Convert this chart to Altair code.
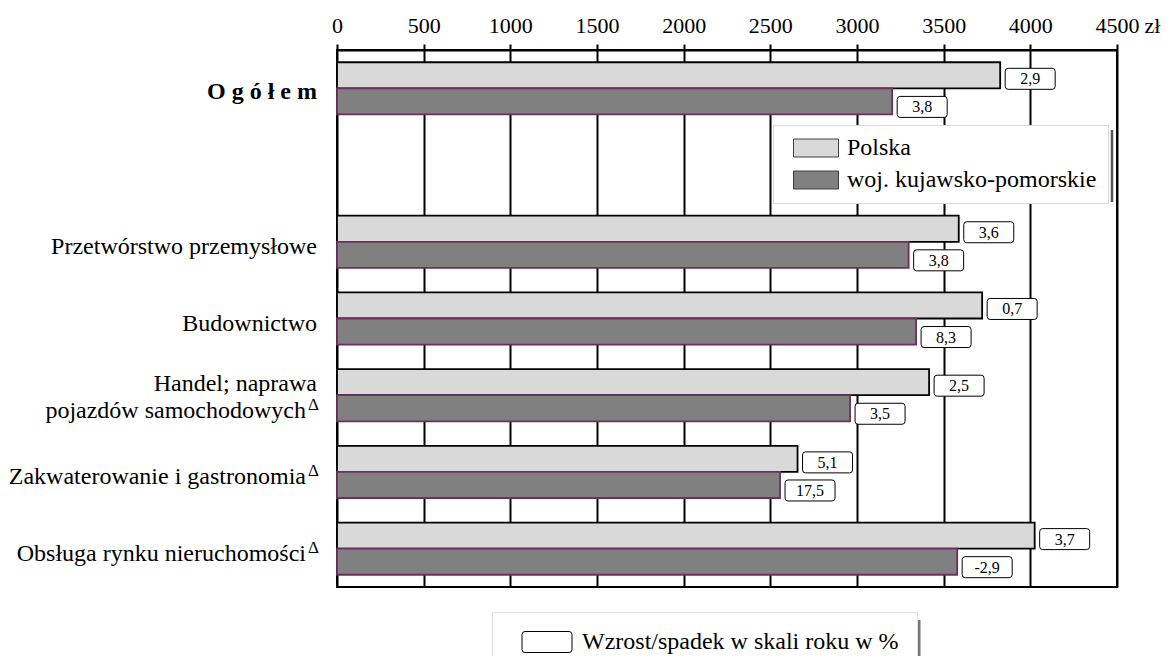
import altair as alt
import pandas as pd

SERIF = "Liberation Serif"

# ---- data ----
sectors = [
    "Ogółem",
    "Przetwórstwo przemysłowe",
    "Budownictwo",
    "Handel; naprawa pojazdów samochodowych",
    "Zakwaterowanie i gastronomia",
    "Obsługa rynku nieruchomości",
]
sector_labels = [
    "O g ó ł e m",
    "Przetwórstwo przemysłowe",
    "Budownictwo",
    "Handel; naprawa\npojazdów samochodowych",
    "Zakwaterowanie i gastronomia",
    "Obsługa rynku nieruchomości",
]
sector_delta = [False, False, False, True, True, True]
series = ["Polska", "woj. kujawsko-pomorskie"]
wages_polska = [3826, 3587, 3722, 3416, 2657, 4025]
wages_kp = [3203, 3298, 3341, 2960, 2556, 3578]
change_polska = [2.9, 3.6, 0.7, 2.5, 5.1, 3.7]
change_kp = [3.8, 3.8, 8.3, 3.5, 17.5, -2.9]
change_legend = "Wzrost/spadek w skali roku w %"
x_ticks = [0, 500, 1000, 1500, 2000, 2500, 3000, 3500, 4000, 4500]
unit = "zł"

# category slots (an empty slot after "Ogółem" holds the legend)
slots = [sectors[0], " "] + sectors[1:]


def fmt(v):
    return f"{v:.1f}".replace(".", ",")


rows = []
for i, s in enumerate(sectors):
    rows.append(dict(sector=s, series=series[0], value=wages_polska[i],
                     change=fmt(change_polska[i]), key=change_legend))
    rows.append(dict(sector=s, series=series[1], value=wages_kp[i],
                     change=fmt(change_kp[i]), key=change_legend))
df = pd.DataFrame(rows)

lab_rows = []
for s, lab, d in zip(sectors, sector_labels, sector_delta):
    lines = lab.split("\n")
    if s == sectors[0]:
        lab_rows.append(dict(sector=s, text=lab, kind="bold"))
    elif len(lines) == 2:
        lab_rows.append(dict(sector=s, text=lines[0], kind="top"))
        lab_rows.append(dict(sector=s, text=lines[1], kind="bottom_delta"))
    elif d:
        lab_rows.append(dict(sector=s, text=lab, kind="delta"))
    else:
        lab_rows.append(dict(sector=s, text=lab, kind="plain"))
labels_df = pd.DataFrame(lab_rows)
labels_df["delta"] = "Δ"

# ---- scales / shapes ----
y_scale = alt.Scale(domain=slots, paddingInner=0.32, paddingOuter=0.16)
x_scale = alt.Scale(domain=[0, 4500], nice=False, zero=True)
swatch_path = "M-2.25,-0.9L2.25,-0.9L2.25,0.9L-2.25,0.9Z"
box_path = ("M-2.2,-1.05L2.2,-1.05Q2.5,-1.05 2.5,-0.75L2.5,0.75Q2.5,1.05 2.2,1.05"
            "L-2.2,1.05Q-2.5,1.05 -2.5,0.75L-2.5,-0.75Q-2.5,-1.05 -2.2,-1.05Z")

x_axis = alt.Axis(
    orient="top", values=x_ticks, format="d", grid=True, gridColor="black",
    gridWidth=2, gridOpacity=1, tickColor="black", tickWidth=2, tickSize=6,
    domainColor="black", domainWidth=2, labelFont=SERIF, labelFontSize=22,
    labelColor="black", labelPadding=7, labelFlush=False, labelOverlap=False,
    title=unit, titleX=807, titleY=-18, titleAlign="left",
    titleBaseline="alphabetic", titleAngle=0, titleFont=SERIF,
    titleFontSize=22, titleFontWeight="normal", titleColor="black",
)
x_enc = alt.X("value:Q", scale=x_scale, axis=x_axis)

main_legend = alt.Legend(
    orient="none", legendX=436, legendY=75, direction="vertical", title=None,
    fillColor="white", strokeColor="#d9d9d9", padding=11,
    symbolType=swatch_path, symbolSize=400, symbolStrokeColor="#404040",
    symbolStrokeWidth=1, symbolOffset=20, labelFont=SERIF, labelFontSize=24,
    labelColor="black", labelOffset=19, rowPadding=8, labelLimit=500,
)

box_legend = alt.Legend(
    orient="none", legendX=155, legendY=562, title=None,
    fillColor="white", strokeColor="#e0e0e0", padding=18,
    symbolType=box_path, symbolSize=400, symbolStrokeColor="black",
    symbolStrokeWidth=1, symbolOffset=25, labelFont=SERIF, labelFontSize=24,
    labelColor="black", labelOffset=23, labelLimit=600,
)

bars = alt.Chart(df).mark_bar(strokeWidth=1.8).encode(
    x=x_enc,
    y=alt.Y("sector:N", scale=y_scale, axis=None),
    yOffset=alt.YOffset("series:N", scale=alt.Scale(domain=series)),
    fill=alt.Fill("series:N", scale=alt.Scale(domain=series, range=["#d9d9d9", "#808080"]),
                  legend=main_legend),
    stroke=alt.Stroke("series:N", scale=alt.Scale(domain=series, range=["#000000", "#6e2f5e"]),
                      legend=None),
)

band_pos = [0.25, 0.75]
box_dy = [3.5, 5.5]
box_layers = []
text_layers = []
for i, s in enumerate(series):
    boxes = alt.Chart(df).transform_filter(alt.datum.series == s).mark_point(
        shape=box_path, size=400, filled=True, stroke="black",
        strokeWidth=1, opacity=1, xOffset=30, yOffset=box_dy[i],
    ).encode(
        x=x_enc,
        y=alt.Y("sector:N", scale=y_scale, axis=None, bandPosition=band_pos[i]),
        fill=alt.Fill("key:N", scale=alt.Scale(domain=[change_legend], range=["white"]),
                      legend=box_legend if i == 0 else None),
    )
    texts = alt.Chart(df).transform_filter(alt.datum.series == s).mark_text(
        font=SERIF, fontSize=16, color="black", align="center", baseline="middle",
        xOffset=30, yOffset=box_dy[i] + 0.5,
    ).encode(
        x=x_enc,
        y=alt.Y("sector:N", scale=y_scale, axis=None, bandPosition=band_pos[i]),
        text="change:N",
    )
    box_layers.append(boxes)
    text_layers.append(texts)

boxes_all = alt.layer(*box_layers)


def label_layer(kind, x, dy, size=24, weight="normal", field="text"):
    return alt.Chart(labels_df).transform_filter(alt.datum.kind == kind).mark_text(
        font=SERIF, fontSize=size, fontWeight=weight, color="black",
        align="right", baseline="middle", dy=dy,
    ).encode(
        x=alt.value(x),
        y=alt.Y("sector:N", scale=y_scale, axis=None),
        text=f"{field}:N",
    )


label_layers = [
    label_layer("bold", -20, 4, weight="bold"),
    label_layer("plain", -20, 5),
    label_layer("top", -20, -11),
    label_layer("bottom_delta", -31, 16),
    label_layer("delta", -31, 5),
    label_layer("bottom_delta", -18, 10, size=17, field="delta"),
    label_layer("delta", -18, -1, size=17, field="delta"),
]

one = pd.DataFrame({"a": [1]})
shadow1 = alt.Chart(one).mark_rule(color="#555555", strokeWidth=2.5).encode(
    x=alt.value(775), y=alt.value(80), y2=alt.value(152))
shadow2 = alt.Chart(one).mark_rule(color="#777777", strokeWidth=3).encode(
    x=alt.value(582), y=alt.value(570), y2=alt.value(640))

chart = alt.layer(
    bars, boxes_all, *text_layers, *label_layers, shadow1, shadow2
).resolve_scale(fill="independent").properties(
    width=780, height=537,
    padding={"left": 329, "top": 42, "right": 45, "bottom": 69},
    autosize=alt.AutoSizeParams(type="none"),
    background="white",
).configure_view(stroke="black", strokeWidth=2)

chart.save("out.html", embed_options={"renderer": "svg", "actions": False})
